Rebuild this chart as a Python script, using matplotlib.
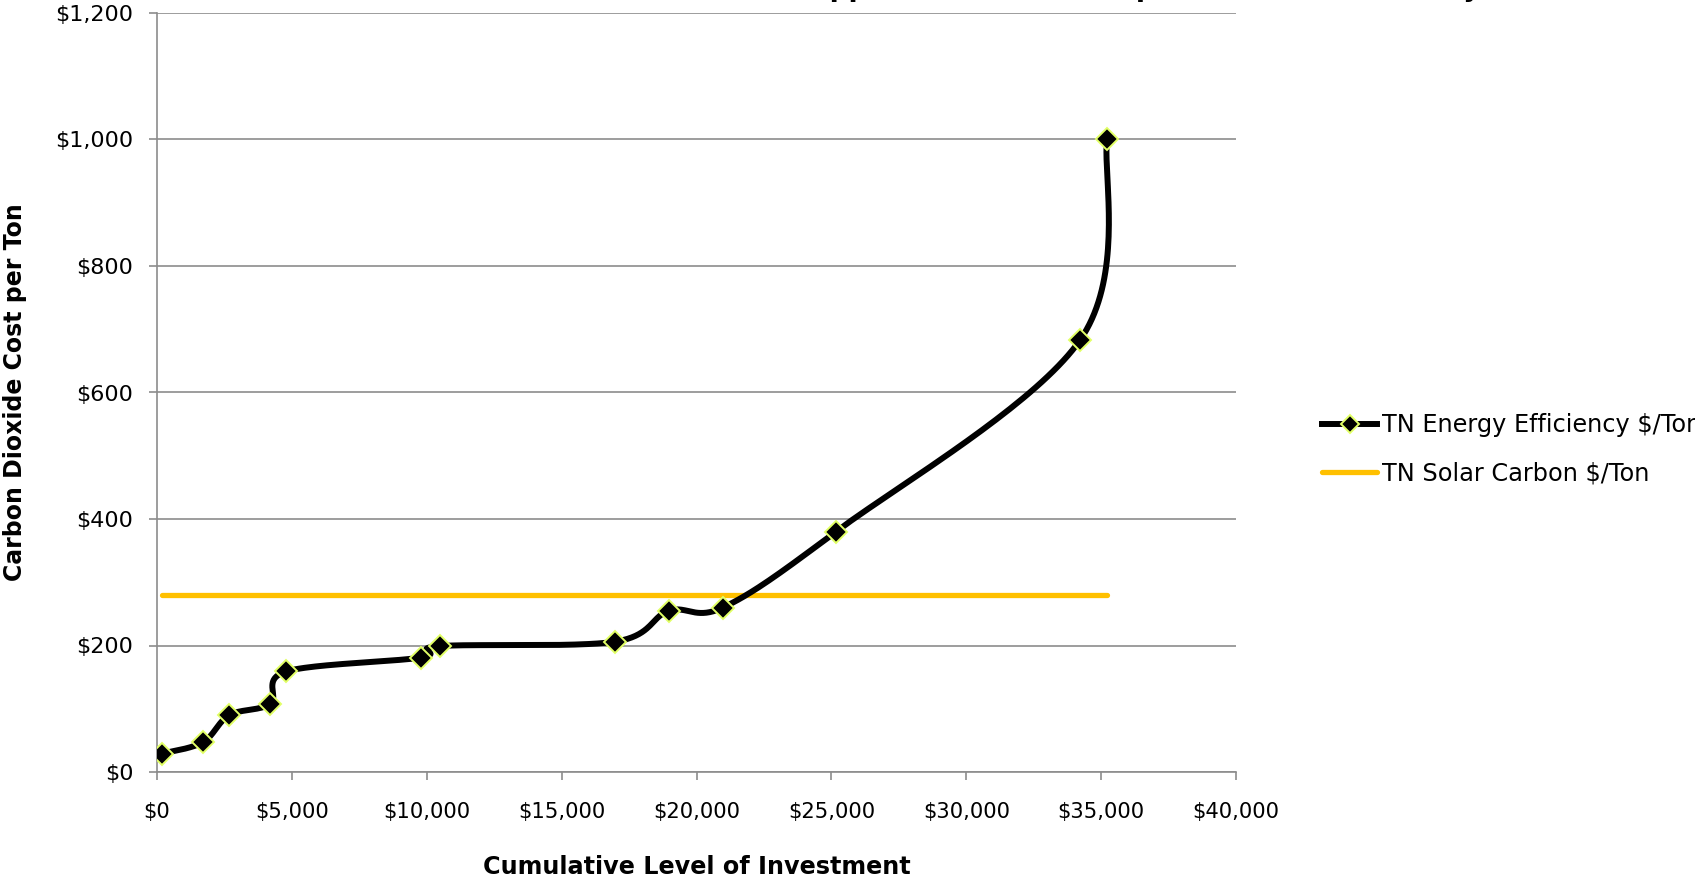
import numpy as np
import matplotlib
matplotlib.use("Agg")
import matplotlib.pyplot as plt
from matplotlib.ticker import FuncFormatter, MultipleLocator
from matplotlib.lines import Line2D

# Cumulative investment ($) and carbon dioxide cost ($/ton) for each efficiency measure
investment = [180, 1700, 2680, 4200, 4790, 9800, 10480, 16970, 18980, 20980, 25170, 34220, 35220]
cost_per_ton = [29, 47, 90, 108, 159, 181, 199, 206, 255, 260, 380, 683, 1000]

# Solar reference cost ($/ton), flat across the same investment range
solar_cost = 280
solar_span = [investment[0], investment[-1]]

series_names = ["TN Energy Efficiency $/Ton", "TN Solar Carbon $/Ton"]
title_text = "TN Carbon Dioxide Abatement Cost Curve (Appliances, Heat Pumps and Solar Electricity)"
x_label = "Cumulative Level of Investment"
y_label = "Carbon Dioxide Cost per Ton"


def smooth_curve(xs, ys, steps=40):
    """Cubic Bezier smoothing through every point (Catmull-Rom style tangents)."""
    pts = np.column_stack([xs, ys]).astype(float)
    n = len(pts)
    out = []
    for i in range(n - 1):
        p0 = pts[i - 1] if i > 0 else pts[i]
        p1 = pts[i]
        p2 = pts[i + 1]
        p3 = pts[i + 2] if i + 2 < n else pts[i + 1]
        c1 = p1 + (p2 - p0) / 6.0
        c2 = p2 - (p3 - p1) / 6.0
        t = np.linspace(0, 1, steps)[:, None]
        seg = ((1 - t) ** 3) * p1 + 3 * ((1 - t) ** 2) * t * c1 + 3 * (1 - t) * t ** 2 * c2 + t ** 3 * p2
        out.append(seg if i == 0 else seg[1:])
    curve = np.vstack(out)
    return curve[:, 0], curve[:, 1]


plt.rcParams["font.family"] = ["DejaVu Sans"]

fig = plt.figure(figsize=(16.95, 8.8), dpi=100)
ax = fig.add_axes([157 / 1695, 108 / 880, 1079 / 1695, 759 / 880])

grid_color = "#8c8c8c"

sx, sy = smooth_curve(investment, cost_per_ton)
ax.plot(sx, sy, color="black", lw=4.3, solid_capstyle="round", zorder=3)
ax.plot(investment, cost_per_ton, linestyle="none", marker="D", markersize=11.5,
        markerfacecolor="black", markeredgecolor="#e2ff66", markeredgewidth=1.4, zorder=4)
ax.plot(solar_span, [solar_cost, solar_cost], color="#ffc000", lw=3.8,
        solid_capstyle="round", zorder=2)

ax.set_xlim(0, 40000)
ax.set_ylim(0, 1200)
ax.xaxis.set_major_locator(MultipleLocator(5000))
ax.yaxis.set_major_locator(MultipleLocator(200))
ax.xaxis.set_major_formatter(FuncFormatter(lambda v, p: f"${v:,.0f}"))
ax.yaxis.set_major_formatter(FuncFormatter(lambda v, p: f"${v:,.0f}"))

ax.grid(axis="y", color=grid_color, lw=1.2)
ax.set_axisbelow(True)
for side in ("top", "right"):
    ax.spines[side].set_visible(False)
for side in ("left", "bottom"):
    ax.spines[side].set_color(grid_color)
    ax.spines[side].set_linewidth(1.2)

ax.tick_params(axis="x", colors=grid_color, length=5.5, width=1.2, pad=16,
               labelcolor="black", labelsize=15.2)
ax.tick_params(axis="y", colors=grid_color, length=6, width=1.2, pad=11,
               labelcolor="black", labelsize=16)

fig.text(697 / 1695, 1 - 867 / 880, x_label, ha="center", va="center",
         fontsize=17.2, fontweight="bold")
fig.text(15 / 1695, 1 - 392 / 880, y_label, ha="center", va="center",
         rotation=90, fontsize=17, fontweight="bold")

# Chart title sits at the very top edge of the canvas
fig.text(0.49, 1 + 3.5 / 880, title_text, ha="center", va="baseline",
         fontsize=19, fontweight="bold")

# Legend handles: line with diamond marker, and plain solar line
h1 = Line2D([], [], color="black", lw=4.3, marker="D", markersize=9.5,
            markerfacecolor="black", markeredgecolor="#e2ff66", markeredgewidth=1.4)
h2 = Line2D([], [], color="#ffc000", lw=3.8, solid_capstyle="round")
fig.legend([h1, h2], series_names, loc="center left",
           bbox_to_anchor=(1322 / 1695, 1 - 449 / 880), frameon=False,
           fontsize=17.3, handlelength=2.3, handletextpad=0.2, labelspacing=1.0,
           borderpad=0, borderaxespad=0)

fig.savefig("out.png", dpi=100)
